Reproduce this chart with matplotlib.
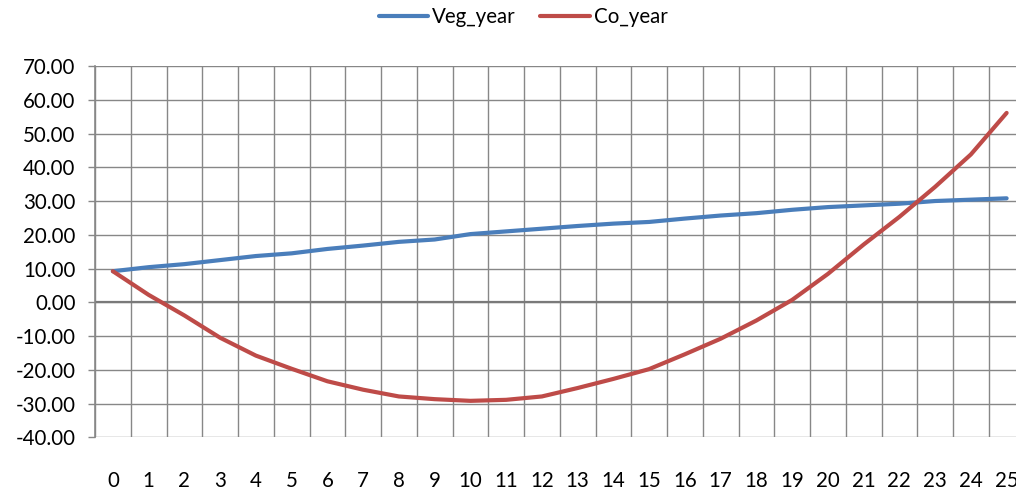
import numpy as np
import matplotlib
matplotlib.use('Agg')
import matplotlib.pyplot as plt

# Yearly series
years = list(range(0, 26))
veg_year = [9.2, 10.4, 11.3, 12.5, 13.7, 14.5, 15.8, 16.8, 17.9, 18.6,
            20.2, 21.0, 21.8, 22.6, 23.3, 23.8, 24.8, 25.7, 26.4, 27.4,
            28.2, 28.7, 29.2, 30.0, 30.4, 30.8]
co_year = [9.2, 2.2, -3.9, -10.5, -15.8, -19.7, -23.4, -25.9, -27.9, -28.7,
           -29.2, -28.9, -27.9, -25.4, -22.7, -19.8, -15.4, -10.8, -5.4, 0.7,
           8.4, 17.1, 25.3, 34.2, 43.8, 56.1]
y_ticks = np.arange(-40, 71, 10)

plt.rcParams['font.family'] = ['Lato', 'DejaVu Sans']

W, H = 1016, 491
fig = plt.figure(figsize=(W / 100, H / 100), dpi=100)
# plot area runs past the right edge of the image
left, right, top, bottom = 95, 1024.5, 66, 437.3
ax = fig.add_axes([left / W, 1 - bottom / H, (right - left) / W, (bottom - top) / H])

grid_color = '#878787'
ax.set_xlim(-0.5, 25.5)
ax.set_ylim(-40, 70)

ax.plot(years, veg_year, color='#4A7EBB', lw=3.0, solid_capstyle='round', label='Veg_year', zorder=3)
ax.plot(years, co_year, color='#BE4B48', lw=3.0, solid_capstyle='round', label='Co_year', zorder=3)

# category gridlines sit between the points
ax.set_xticks(years)
ax.set_xticks(np.arange(-0.5, 25.6, 1), minor=True)
ax.set_xticklabels([str(y) for y in years], fontsize=14.8)
ax.tick_params(axis='x', which='both', length=0, pad=24)
ax.grid(True, which='minor', axis='x', color=grid_color, lw=1.0)

ax.set_yticks(y_ticks)
ax.set_yticklabels([f'{v:.2f}' for v in y_ticks], fontsize=14.8)
ax.tick_params(axis='y', length=5, width=1.0, color=grid_color, pad=9)
ax.grid(True, which='major', axis='y', color=grid_color, lw=1.0)
ax.axhline(0, color='#7a7a7a', lw=1.6, zorder=2)
ax.set_axisbelow(True)

for side in ['top', 'right', 'bottom']:
    ax.spines[side].set_visible(False)
ax.spines['left'].set_color(grid_color)
ax.spines['left'].set_linewidth(1.2)

fig.legend(loc='center', bbox_to_anchor=(523 / W, 1 - 17 / H), ncol=2, frameon=False,
           fontsize=14.8, handlelength=2.4, handletextpad=0.2, columnspacing=1.2)

fig.savefig('out.png', dpi=100)
